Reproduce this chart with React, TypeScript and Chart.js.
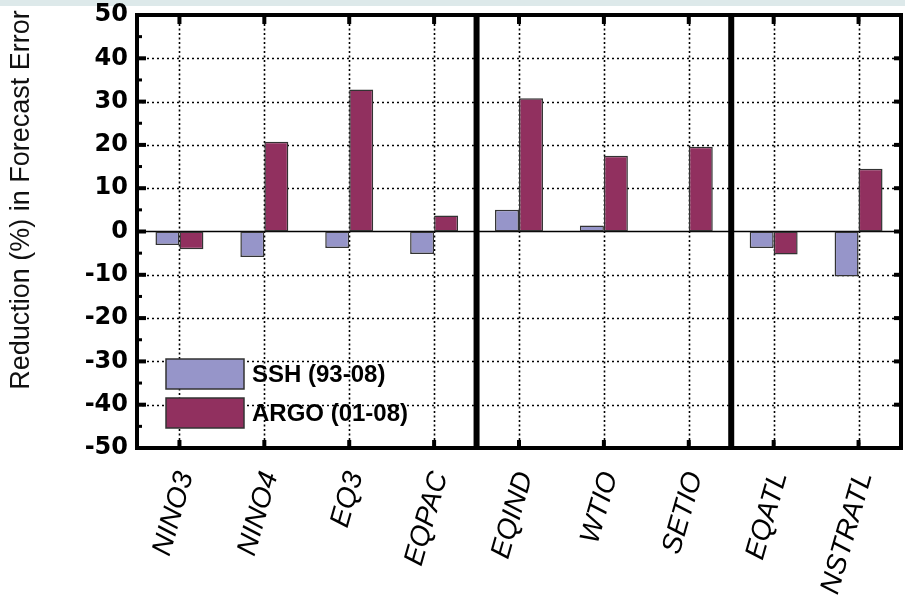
import React, { useEffect, useRef } from "react";
import { Chart, registerables } from "chart.js";

Chart.register(...registerables);

const categories = ["NINO3", "NINO4", "EQ3", "EQPAC", "EQIND", "WTIO", "SETIO", "EQATL", "NSTRATL"];
const sshValues = [-3.1, -5.9, -3.8, -5.2, 5.0, 1.4, 0, -3.8, -10.4];
const argoValues = [-4.1, 20.7, 32.8, 3.7, 30.8, 17.5, 19.6, -5.3, 14.5];
const seriesLabels = ["SSH (93-08)", "ARGO (01-08)"];
const seriesColors = ["#9695c9", "#91305f"];
const yMin = -50;
const yMax = 50;
const yStep = 10;
const basinBreaks = [3, 6]; // separator after these category indices
const yTitle = "Reduction (%) in Forecast Error";

const framePlugin = {
  id: "framePlugin",
  beforeDraw(chart: any) {
    const { ctx } = chart;
    ctx.save();
    ctx.fillStyle = "#dde9ea";
    ctx.fillRect(0, 0, chart.width, 6);
    ctx.restore();
  },
  beforeDatasetsDraw(chart: any) {
    const { ctx, chartArea: a, scales } = chart;
    const x = scales.x;
    const y = scales.y;
    ctx.save();
    ctx.strokeStyle = "#000";
    ctx.lineWidth = 1.6;
    ctx.setLineDash([2, 3]);
    for (let v = yMin + yStep; v < yMax; v += yStep) {
      if (v === 0) continue;
      const py = Math.round(y.getPixelForValue(v)) + 0.5;
      ctx.beginPath();
      ctx.moveTo(a.left, py);
      ctx.lineTo(a.right, py);
      ctx.stroke();
    }
    ctx.setLineDash([2, 2.5]);
    categories.forEach((_, i) => {
      const px = Math.round(x.getPixelForValue(i)) + 0.5;
      ctx.beginPath();
      ctx.moveTo(px, a.top);
      ctx.lineTo(px, a.bottom);
      ctx.stroke();
    });
    ctx.setLineDash([]);
    ctx.lineWidth = 1.5;
    const zy = y.getPixelForValue(0);
    ctx.beginPath();
    ctx.moveTo(a.left, zy);
    ctx.lineTo(a.right, zy);
    ctx.stroke();
    ctx.restore();
  },
  afterDatasetsDraw(chart: any) {
    const { ctx, chartArea: a, scales } = chart;
    const x = scales.x;
    const y = scales.y;
    ctx.save();
    ctx.fillStyle = "#000";
    basinBreaks.forEach((i) => {
      const px = (x.getPixelForValue(i) + x.getPixelForValue(i + 1)) / 2;
      ctx.fillRect(px - 3, a.top, 6, a.bottom - a.top);
    });
    for (let v = yMin; v <= yMax; v += yStep / 2) {
      const py = y.getPixelForValue(v);
      const major = Math.abs(v % yStep) < 1e-9;
      if (major) {
        ctx.fillRect(a.left, py - 2, 9, 4);
        ctx.fillRect(a.right - 7, py - 2, 7, 4);
      } else {
        ctx.fillRect(a.left, py - 1.5, 5, 3);
      }
    }
    categories.forEach((_, i) => {
      const px = x.getPixelForValue(i);
      ctx.fillRect(px - 2, a.top, 4, 9);
      ctx.fillRect(px - 2, a.bottom - 8, 4, 8);
    });
    ctx.strokeStyle = "#000";
    ctx.lineWidth = 4;
    ctx.strokeRect(a.left, a.top, a.right - a.left, a.bottom - a.top);

    const sw = 78;
    const sh = 30;
    const lx = 166;
    const ly0 = 359;
    const gap = 39;
    ctx.font = "bold 24px 'Liberation Sans', Arial, sans-serif";
    ctx.textAlign = "left";
    ctx.textBaseline = "middle";
    seriesLabels.forEach((lab, i) => {
      const ly = ly0 + i * gap;
      ctx.fillStyle = seriesColors[i];
      ctx.fillRect(lx, ly, sw, sh);
      ctx.strokeStyle = "#333";
      ctx.lineWidth = 1.5;
      ctx.strokeRect(lx, ly, sw, sh);
      ctx.fillStyle = "#000";
      ctx.fillText(lab, lx + sw + 8, ly + sh / 2 + 1);
    });
    ctx.restore();
  },
  afterDraw(chart: any) {
    const { ctx } = chart;
    ctx.save();
    ctx.translate(22, 200);
    ctx.rotate(-Math.PI / 2);
    ctx.font = "27px 'Liberation Sans', Arial, sans-serif";
    ctx.fillStyle = "#111";
    ctx.textAlign = "center";
    ctx.textBaseline = "middle";
    ctx.fillText(yTitle, 0, 0);
    ctx.restore();
  },
};

export default function App() {
  const ref = useRef<HTMLCanvasElement | null>(null);
  useEffect(() => {
    document.body.style.margin = "0";
    const canvas = ref.current;
    if (!canvas) return;
    const chart = new Chart(canvas, {
      type: "bar",
      data: {
        labels: categories,
        datasets: [
          {
            label: seriesLabels[0],
            data: sshValues,
            backgroundColor: seriesColors[0],
            borderColor: "#333",
            borderWidth: 1.5,
            borderSkipped: false,
            categoryPercentage: 0.565,
            barPercentage: 1,
          },
          {
            label: seriesLabels[1],
            data: argoValues,
            backgroundColor: seriesColors[1],
            borderColor: "#333",
            borderWidth: 1.5,
            borderSkipped: false,
            categoryPercentage: 0.565,
            barPercentage: 1,
          },
        ],
      },
      options: {
        animation: false,
        responsive: false,
        events: [],
        layout: { padding: { top: 15, right: 4, left: 0, bottom: 0 } },
        plugins: {
          legend: { display: false },
          tooltip: { enabled: false },
          title: { display: false },
        },
        scales: {
          x: {
            grid: { display: false, drawTicks: false, offset: false },
            border: { display: false },
            ticks: {
              autoSkip: false,
              minRotation: 74,
              maxRotation: 74,
              padding: 20,
              labelOffset: 6,
              color: "#000",
              font: { family: "'Liberation Sans', Arial, sans-serif", size: 28, style: "italic" },
            },
            afterFit(scale: any) {
              scale.height = 157;
              scale.paddingLeft = 0;
              scale.paddingRight = 0;
            },
          },
          y: {
            min: yMin,
            max: yMax,
            grid: { display: false, drawTicks: false },
            border: { display: false },
            ticks: {
              stepSize: yStep,
              padding: 9,
              color: "#000",
              font: { family: "'DejaVu Sans', sans-serif", size: 24, weight: "bold" },
            },
            afterFit(scale: any) {
              scale.width = 137;
              scale.paddingTop = 0;
              scale.paddingBottom = 0;
            },
          },
        },
      },
      plugins: [framePlugin],
    });
    return () => chart.destroy();
  }, []);
  return <canvas ref={ref} width={905} height={605} style={{ display: "block" }} />;
}
